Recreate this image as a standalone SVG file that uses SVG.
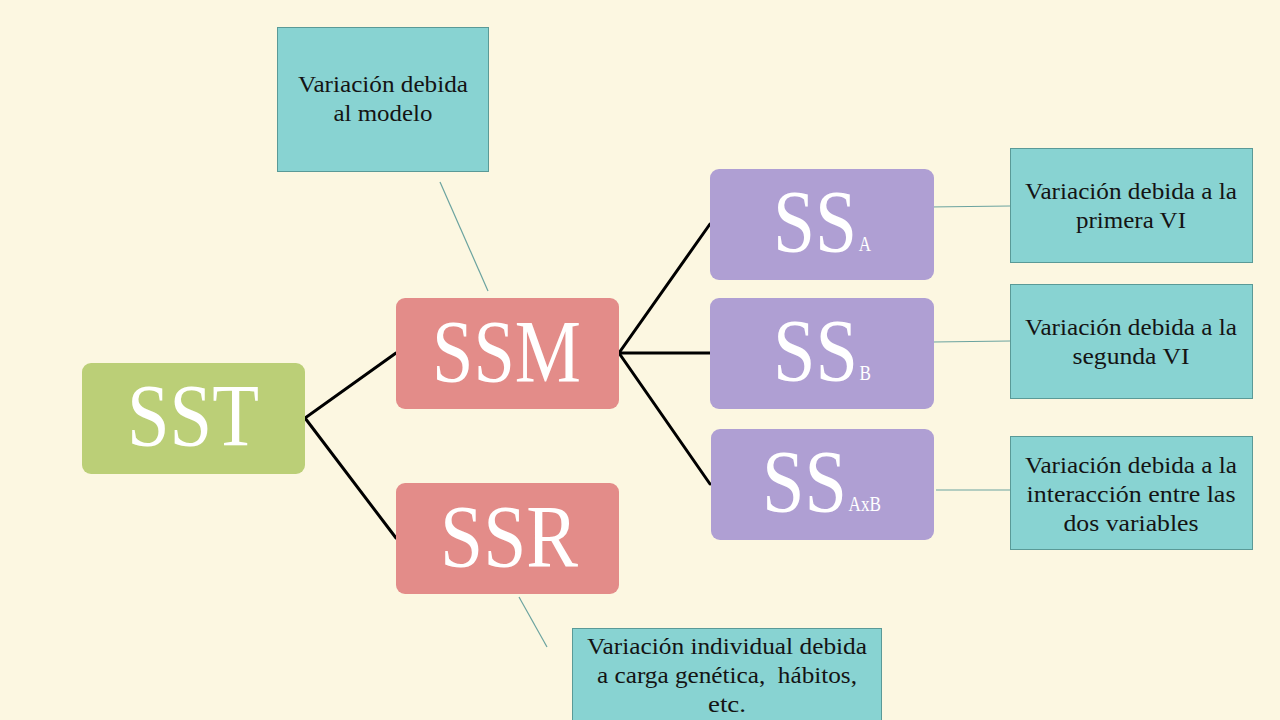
<svg xmlns="http://www.w3.org/2000/svg" width="1280" height="720" viewBox="0 0 1280 720">
<style>
.big{font-family:"Liberation Serif","Times New Roman",serif;fill:#ffffff;font-size:89px}
.sub{font-size:20px}
.note{font-family:"Liberation Serif","Times New Roman",serif;fill:#141414;font-size:23.5px;text-anchor:middle}
.green{fill:#BBCF77}
.pink{fill:#E38C89}
.purple{fill:#AF9FD3}
.callout{fill:#88D3D2;stroke:#5A9A97;stroke-width:1}
.conn{stroke:#000000;stroke-width:3;fill:none;stroke-linecap:round;stroke-linejoin:miter}
.thin{stroke:#6BA39F;stroke-width:1.2;fill:none}
</style>
<rect x="0" y="0" width="1280" height="720" fill="#FCF7E1"/>

<g id="connectors">
<polyline class="conn" points="396,353 305,418 396,538"/>
<polyline class="conn" points="710,224 619,353 710,484"/>
<line class="conn" x1="619" y1="353" x2="710" y2="353"/>
<line class="thin" x1="440" y1="182" x2="488" y2="291"/>
<line class="thin" x1="929" y1="207" x2="1010" y2="206"/>
<line class="thin" x1="933" y1="342" x2="1010" y2="341"/>
<line class="thin" x1="936" y1="490" x2="1010" y2="490"/>
<line class="thin" x1="519" y1="597" x2="547" y2="647"/>
</g>

<g id="SST">
<rect class="green" x="82" y="363" width="223" height="111" rx="9"/>
<text class="big" x="127" y="445" textLength="132" lengthAdjust="spacingAndGlyphs">SST</text>
</g>

<g id="SSM">
<rect class="pink" x="396" y="298" width="223" height="111" rx="9"/>
<text class="big" x="432" y="381" textLength="149" lengthAdjust="spacingAndGlyphs">SSM</text>
</g>

<g id="SSR">
<rect class="pink" x="396" y="483" width="223" height="111" rx="9"/>
<text class="big" x="440" y="566" textLength="138" lengthAdjust="spacingAndGlyphs">SSR</text>
</g>

<g id="SSA">
<rect class="purple" x="710" y="169" width="224" height="111" rx="9"/>
<text class="big" x="773" y="251" font-size="87" textLength="98" lengthAdjust="spacingAndGlyphs">SS<tspan class="sub" dx="2">A</tspan></text>
</g>

<g id="SSB">
<rect class="purple" x="710" y="298" width="224" height="111" rx="9"/>
<text class="big" x="773" y="380" font-size="87" textLength="98" lengthAdjust="spacingAndGlyphs">SS<tspan class="sub" dx="2">B</tspan></text>
</g>

<g id="SSAxB">
<rect class="purple" x="711" y="429" width="223" height="111" rx="9"/>
<text class="big" x="762" y="511" font-size="87" textLength="119" lengthAdjust="spacingAndGlyphs">SS<tspan class="sub" dx="2">AxB</tspan></text>
</g>

<g id="note-modelo">
<rect class="callout" x="277.5" y="27.5" width="211" height="144"/>
<text class="note" x="383" y="92" textLength="170" lengthAdjust="spacingAndGlyphs">Variación debida</text>
<text class="note" x="383" y="121" textLength="99" lengthAdjust="spacingAndGlyphs">al modelo</text>
</g>

<g id="note-A">
<rect class="callout" x="1010.5" y="148.5" width="242" height="114"/>
<text class="note" x="1131" y="199" textLength="212" lengthAdjust="spacingAndGlyphs">Variación debida a la</text>
<text class="note" x="1131" y="228" textLength="110" lengthAdjust="spacingAndGlyphs">primera VI</text>
</g>

<g id="note-B">
<rect class="callout" x="1010.5" y="284.5" width="242" height="114"/>
<text class="note" x="1131" y="335" textLength="212" lengthAdjust="spacingAndGlyphs">Variación debida a la</text>
<text class="note" x="1131" y="364" textLength="117" lengthAdjust="spacingAndGlyphs">segunda VI</text>
</g>

<g id="note-AxB">
<rect class="callout" x="1010.5" y="436.5" width="242" height="113"/>
<text class="note" x="1131" y="473" textLength="212" lengthAdjust="spacingAndGlyphs">Variación debida a la</text>
<text class="note" x="1131" y="502" textLength="209" lengthAdjust="spacingAndGlyphs">interacción entre las</text>
<text class="note" x="1131" y="531" textLength="135" lengthAdjust="spacingAndGlyphs">dos variables</text>
</g>

<g id="note-SSR">
<rect class="callout" x="572.5" y="628.5" width="309" height="100"/>
<text class="note" x="727" y="654" textLength="280" lengthAdjust="spacingAndGlyphs">Variación individual debida</text>
<text class="note" x="727" y="683" textLength="260" lengthAdjust="spacingAndGlyphs" xml:space="preserve">a carga genética,  hábitos,</text>
<text class="note" x="727" y="712" textLength="38" lengthAdjust="spacingAndGlyphs">etc.</text>
</g>
</svg>
